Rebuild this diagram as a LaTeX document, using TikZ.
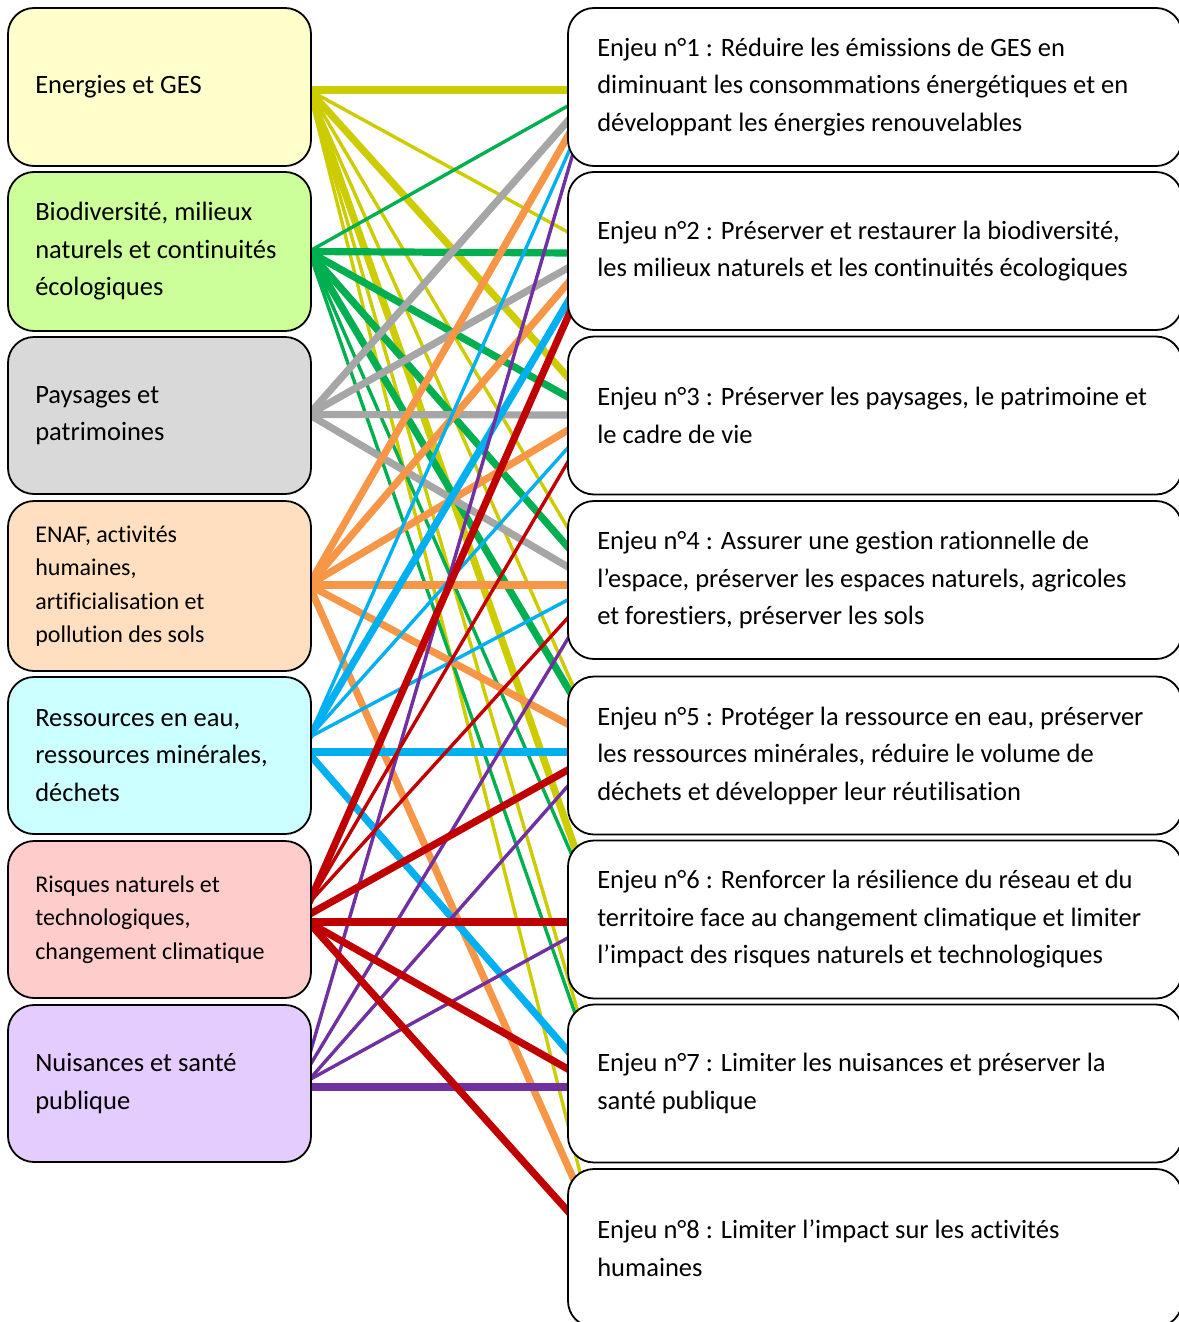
\documentclass[tikz,border=0pt]{standalone}
\usepackage{fontspec}
\setmainfont{Carlito}[Ligatures={NoCommon}]
\usetikzlibrary{calc}
\pgfdeclarelayer{bg}
\pgfsetlayers{bg,main}
\definecolor{cYel}{HTML}{CCCC00}
\definecolor{cGrn}{HTML}{00B050}
\definecolor{cGry}{HTML}{A6A6A6}
\definecolor{cOrg}{HTML}{F79646}
\definecolor{cCya}{HTML}{00B0F0}
\definecolor{cRed}{HTML}{C00000}
\definecolor{cPur}{HTML}{7030A0}
\definecolor{fYel}{HTML}{FFFFCC}
\definecolor{fGrn}{HTML}{CCFF99}
\definecolor{fGry}{HTML}{D9D9D9}
\definecolor{fOrg}{HTML}{FFDFBF}
\definecolor{fCya}{HTML}{CCFFFF}
\definecolor{fRed}{HTML}{FFCCCC}
\definecolor{fPur}{HTML}{E5CCFF}
\tikzset{
  lbox/.style={draw=black, line width=1.8pt, rounded corners=26pt, minimum width=303pt, inner sep=0pt},
  rbox/.style={draw=black, fill=white, line width=1.8pt, rounded corners=26pt, minimum width=614pt, minimum height=158pt, inner sep=0pt},
  btext/.style={anchor=west, align=left, inner sep=0pt, font=\fontsize{26.5}{37.5}\selectfont},
  stext/.style={anchor=west, align=left, inner sep=0pt, font=\fontsize{24}{33.5}\selectfont},
  thk/.style={line width=7.2pt},
  thn/.style={line width=3.4pt}
}
\begin{document}
\begin{tikzpicture}[x=1pt,y=-1pt]
\useasboundingbox (0,0) rectangle (1178,1322);
% left boxes
\node[lbox, fill=fYel, minimum height=158pt] (L1) at (159.5,87) {};
\node[lbox, fill=fGrn, minimum height=159pt] (L2) at (159.5,251.5) {};
\node[lbox, fill=fGry, minimum height=157pt] (L3) at (159.5,415.5) {};
\node[lbox, fill=fOrg, minimum height=170pt] (L4) at (159.5,586) {};
\node[lbox, fill=fCya, minimum height=157pt] (L5) at (159.5,755.5) {};
\node[lbox, fill=fRed, minimum height=157pt] (L6) at (159.5,919.5) {};
\node[lbox, fill=fPur, minimum height=157pt] (L7) at (159.5,1083.5) {};
% right boxes
\node[rbox] (R1) at (875,87) {};
\node[rbox] (R2) at (875,251) {};
\node[rbox] (R3) at (875,415.5) {};
\node[rbox] (R4) at (875,580) {};
\node[rbox] (R5) at (875,755.5) {};
\node[rbox] (R6) at (875,919.5) {};
\node[rbox] (R7) at (875,1083.5) {};
\node[rbox] (R8) at (875,1248) {};
% left texts
\node[btext] (L1t) at ($(L1.west)+(28,0)$) {Energies et GES};
\node[btext] (L2t) at ($(L2.west)+(28,0)$) {Biodiversité, milieux\\naturels et continuités\\écologiques};
\node[btext] (L3t) at ($(L3.west)+(28,0)$) {Paysages et\\patrimoines};
\node[stext] (L4t) at ($(L4.west)+(28,0)$) {ENAF, activités\\humaines,\\artificialisation et\\pollution des sols};
\node[btext] (L5t) at ($(L5.west)+(28,0)$) {Ressources en eau,\\ressources minérales,\\déchets};
\node[stext] (L6t) at ($(L6.west)+(28,0)$) {Risques naturels et\\technologiques,\\changement climatique};
\node[btext] (L7t) at ($(L7.west)+(28,0)$) {Nuisances et santé\\publique};
% right texts
\node[btext] (R1t) at ($(R1.west)+(30,0)$) {Enjeu n°1 : Réduire les émissions de GES en\\diminuant les consommations énergétiques et en\\développant les énergies renouvelables};
\node[btext] (R2t) at ($(R2.west)+(30,0)$) {Enjeu n°2 : Préserver et restaurer la biodiversité,\\les milieux naturels et les continuités écologiques};
\node[btext] (R3t) at ($(R3.west)+(30,0)$) {Enjeu n°3 : Préserver les paysages, le patrimoine et\\le cadre de vie};
\node[btext] (R4t) at ($(R4.west)+(30,0)$) {Enjeu n°4 : Assurer une gestion rationnelle de\\l’espace, préserver les espaces naturels, agricoles\\et forestiers, préserver les sols};
\node[btext] (R5t) at ($(R5.west)+(30,0)$) {Enjeu n°5 : Protéger la ressource en eau, préserver\\les ressources minérales, réduire le volume de\\déchets et développer leur réutilisation};
\node[btext] (R6t) at ($(R6.west)+(30,0)$) {Enjeu n°6 : Renforcer la résilience du réseau et du\\territoire face au changement climatique et limiter\\l’impact des risques naturels et technologiques};
\node[btext] (R7t) at ($(R7.west)+(30,0)$) {Enjeu n°7 : Limiter les nuisances et préserver la\\santé publique};
\node[btext] (R8t) at ($(R8.west)+(30,0)$) {Enjeu n°8 : Limiter l’impact sur les activités\\humaines};
% connectors
\begin{pgfonlayer}{bg}
% yellow
\draw[cYel, thk] ($(L1.east)+(-3,3)$) -- ($(R1.west)+(6,3)$);
\draw[cYel, thn] ($(L1.east)+(-3,3)$) -- ($(R2.west)+(6,-16)$);
\draw[cYel, thk] ($(L1.east)+(-3,3)$) -- ($(R3.west)+(6,-32.5)$);
\draw[cYel, thn] ($(L1.east)+(-3,3)$) -- ($(R4.west)+(6,-43)$);
\draw[cYel, thn] ($(L1.east)+(-3,3)$) -- ($(R5.north west)+(12,24)$);
\draw[cYel, thk] ($(L1.east)+(-3,3)$) -- ($(R6.north west)+(14,26)$);
\draw[cYel, thn] ($(L1.east)+(-3,3)$) -- ($(R7.north west)+(16,26)$);
\draw[cYel, thn] ($(L1.east)+(-3,3)$) -- ($(R8.north west)+(18,25)$);
% green
\draw[cGrn, thn] ($(L2.east)+(-3,0)$) -- ($(R1.west)+(6,16)$);
\draw[cGrn, thk] ($(L2.east)+(-3,0)$) -- ($(R2.west)+(6,2)$);
\draw[cGrn, thk] ($(L2.east)+(-3,0)$) -- ($(R3.west)+(6,-15.5)$);
\draw[cGrn, thk] ($(L2.east)+(-3,0)$) -- ($(R4.west)+(6,-27)$);
\draw[cGrn, thk] ($(L2.east)+(-3,0)$) -- ($(R5.west)+(6,-58.5)$);
\draw[cGrn, thn] ($(L2.east)+(-3,0)$) -- ($(R6.north west)+(12,32)$);
\draw[cGrn, thn] ($(L2.east)+(-3,0)$) -- ($(R7.north west)+(14,27)$);
% gray
\draw[cGry, thk] ($(L3.east)+(-3,-1)$) -- ($(R1.west)+(6,28)$);
\draw[cGry, thk] ($(L3.east)+(-3,-1)$) -- ($(R2.west)+(6,14)$);
\draw[cGry, thk] ($(L3.east)+(-3,-1)$) -- ($(R3.west)+(6,-0.5)$);
\draw[cGry, thk] ($(L3.east)+(-3,-1)$) -- ($(R4.west)+(6,-10)$);
% orange
\draw[cOrg, thk] ($(L4.east)+(-3,-1)$) -- ($(R1.west)+(6,40)$);
\draw[cOrg, thk] ($(L4.east)+(-3,-1)$) -- ($(R2.west)+(6,26)$);
\draw[cOrg, thk] ($(L4.east)+(-3,-1)$) -- ($(R3.west)+(6,11.5)$);
\draw[cOrg, thk] ($(L4.east)+(-3,-1)$) -- ($(R4.west)+(6,5)$);
\draw[cOrg, thk] ($(L4.east)+(-3,-1)$) -- ($(R5.west)+(6,-28.5)$);
\draw[cOrg, thk] ($(L4.east)+(-3,-1)$) -- ($(R8.north west)+(14,28)$);
% cyan
\draw[cCya, thn] ($(L5.east)+(-3,-18)$) -- ($(R1.west)+(6,55)$);
\draw[cCya, thk] ($(L5.east)+(-3,-18)$) -- ($(R2.west)+(6,42)$);
\draw[cCya, thn] ($(L5.east)+(-3,-18)$) -- ($(R3.west)+(6,26.5)$);
\draw[cCya, thn] ($(L5.east)+(-3,-18)$) -- ($(R4.west)+(6,17)$);
\draw[cCya, thk] ($(L5.east)+(-3,-3.5)$) -- ($(R5.west)+(6,-3.5)$);
\draw[cCya, thk] ($(L5.east)+(-3,-2)$) -- ($(R7.west)+(6,-26.5)$);
% purple
\draw[cPur, thn] ($(L7.east)+(-3,-26.5)$) -- ($(R1.west)+(6,66)$);
\draw[cPur, thn] ($(L7.east)+(-3,-16.5)$) -- ($(R4.west)+(6,50)$);
\draw[cPur, thn] ($(L7.east)+(-3,-3.5)$) -- ($(R5.west)+(6,24.5)$);
\draw[cPur, thn] ($(L7.east)+(-3,-3.5)$) -- ($(R6.west)+(6,15.5)$);
\draw[cPur, thk] ($(L7.east)+(-3,3.5)$) -- ($(R7.west)+(6,3.5)$);
% red
\draw[cRed, thk] ($(L6.east)+(-3,-16.5)$) -- ($(R2.west)+(6,54)$);
\draw[cRed, thn] ($(L6.east)+(-3,-16.5)$) -- ($(R3.west)+(6,37.5)$);
\draw[cRed, thn] ($(L6.east)+(-3,-16.5)$) -- ($(R4.west)+(6,32)$);
\draw[cRed, thk] ($(L6.east)+(-3,-5)$) -- ($(R5.west)+(6,11.5)$);
\draw[cRed, thk] ($(L6.east)+(-3,2.5)$) -- ($(R6.west)+(6,2.5)$);
\draw[cRed, thk] ($(L6.east)+(-3,3)$) -- ($(R7.west)+(6,-11.5)$);
\draw[cRed, thk] ($(L6.east)+(-3,3)$) -- ($(R8.west)+(6,-31)$);
\end{pgfonlayer}
\end{tikzpicture}
\end{document}
